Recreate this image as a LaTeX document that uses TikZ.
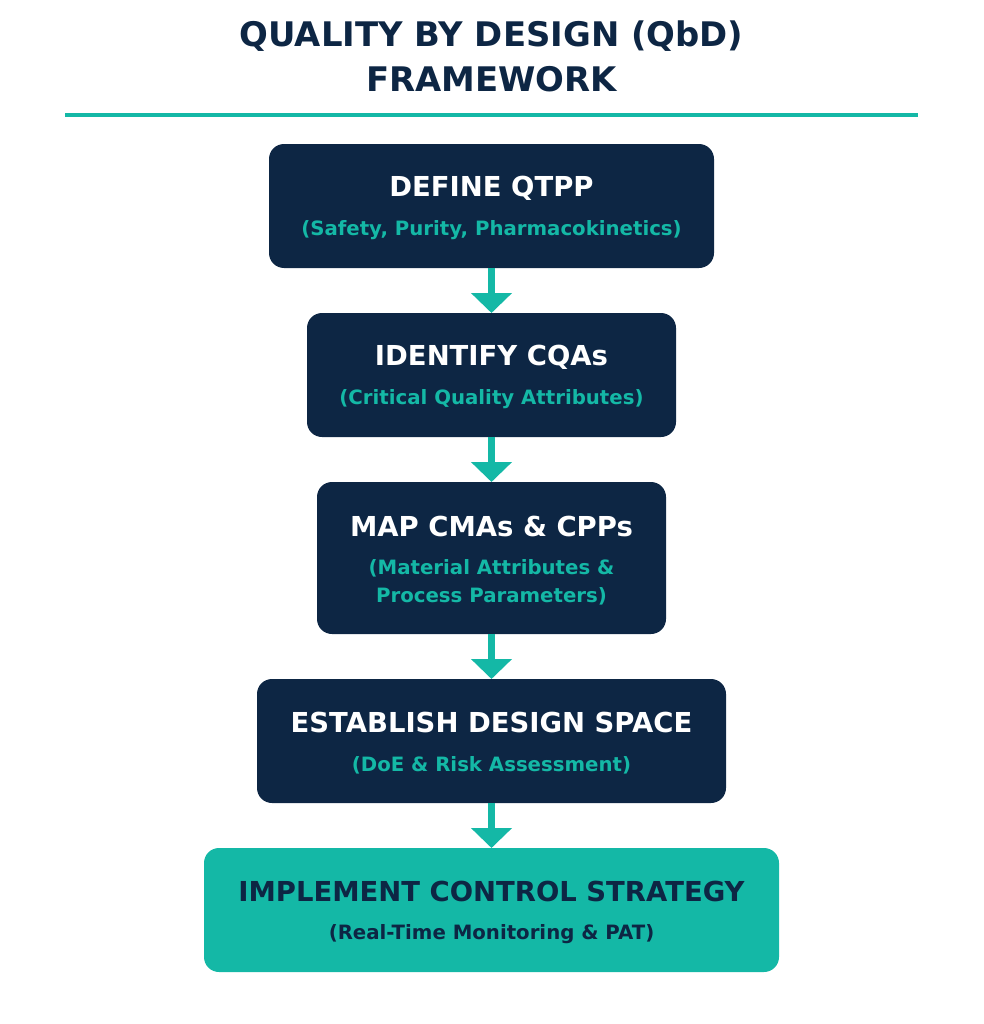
\documentclass[tikz,border=0pt]{standalone}
\usepackage{fontspec}
\setmainfont{DejaVu Sans}
\usetikzlibrary{arrows.meta}
\definecolor{navy}{HTML}{0D2644}
\definecolor{teal}{HTML}{14B8A6}
\begin{document}
\begin{tikzpicture}[x=0.75pt,y=-0.75pt,
  box/.style={fill=navy,draw=none,rounded corners=11.25pt,inner sep=0pt,outer sep=0pt},
  lastbox/.style={box,fill=teal},
  ttl/.style={anchor=base,inner sep=0pt,font=\bfseries\fontsize{20.6pt}{24pt}\selectfont,text=white},
  sub/.style={anchor=base,inner sep=0pt,font=\bfseries\fontsize{14.8pt}{18pt}\selectfont,text=teal},
  head/.style={anchor=base,inner sep=0pt,font=\bfseries\fontsize{25.4pt}{30pt}\selectfont,text=navy},
  flow/.style={draw=teal,line width=5.25pt,-{Triangle[width=30pt,length=15pt]},teal}]
\useasboundingbox (0,0) rectangle (983,1024);
\node[head] (h1) at (491.5,47) {QUALITY BY DESIGN (QbD)};
\node[head] (h2) at (491.5,91.5) {FRAMEWORK};
\coordinate (la) at (65,115);
\coordinate (lb) at (918,115);
\draw[teal,line width=2.6pt] (la) -- (lb);

\node[box,minimum width=445*0.75pt,minimum height=124*0.75pt] (b1) at (491.5,206) {};
\node[ttl] (t1) at (491.5,196) {DEFINE QTPP};
\node[sub] (s1) at (491.5,235.5) {(Safety, Purity, Pharmacokinetics)};

\node[box,minimum width=369*0.75pt,minimum height=124*0.75pt] (b2) at (491.5,375) {};
\node[ttl] (t2) at (491.5,365) {IDENTIFY CQAs};
\node[sub] (s2) at (491.5,404.5) {(Critical Quality Attributes)};

\node[box,minimum width=349*0.75pt,minimum height=152*0.75pt] (b3) at (491.5,558) {};
\node[ttl] (t3) at (491.5,536) {MAP CMAs \& CPPs};
\node[sub] (s3a) at (491.5,574.5) {(Material Attributes \&};
\node[sub] (s3b) at (491.5,602.5) {Process Parameters)};

\node[box,minimum width=469*0.75pt,minimum height=124*0.75pt] (b4) at (491.5,741) {};
\node[ttl] (t4) at (491.5,732) {ESTABLISH DESIGN SPACE};
\node[sub] (s4) at (491.5,771.5) {(DoE \& Risk Assessment)};

\node[lastbox,minimum width=575*0.75pt,minimum height=124*0.75pt] (b5) at (491.5,910) {};
\node[ttl,text=navy] (t5) at (491.5,901) {IMPLEMENT CONTROL STRATEGY};
\node[sub,text=navy] (s5) at (491.5,939.5) {(Real-Time Monitoring \& PAT)};

\draw[flow] (b1.south) -- (b2.north);
\draw[flow] (b2.south) -- (b3.north);
\draw[flow] (b3.south) -- (b4.north);
\draw[flow] (b4.south) -- (b5.north);
\end{tikzpicture}
\end{document}
